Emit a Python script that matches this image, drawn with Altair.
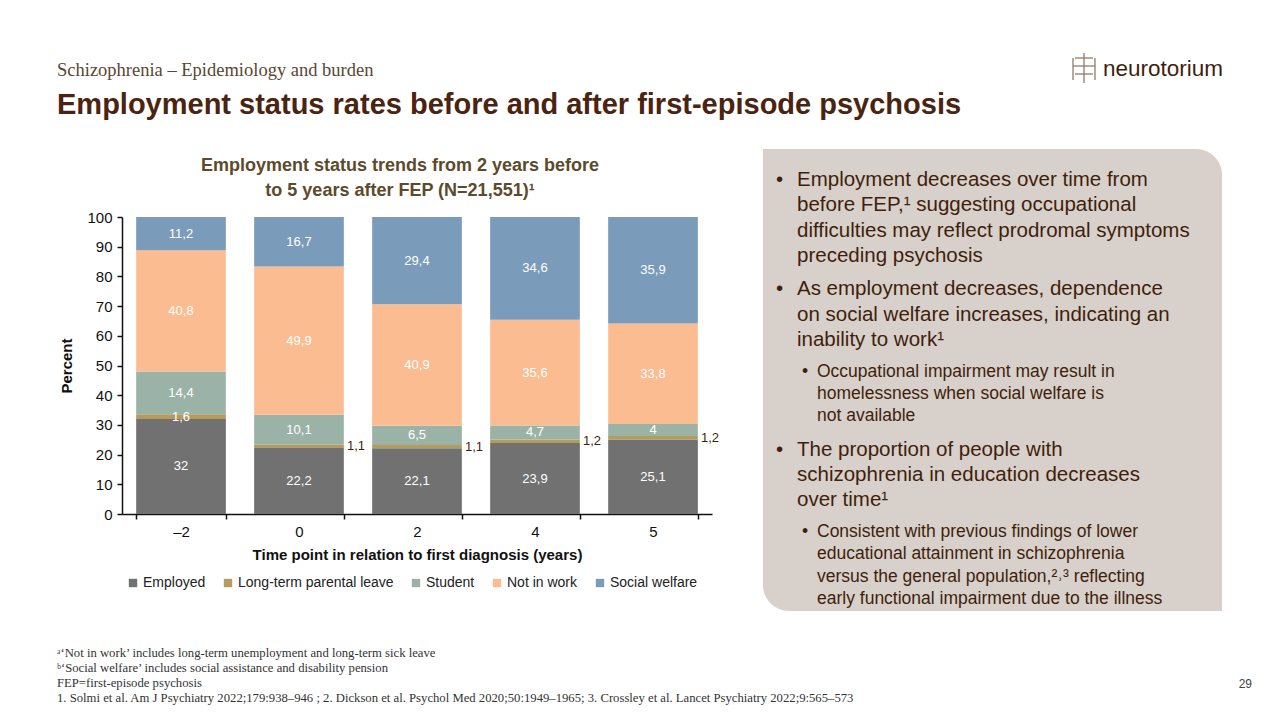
import altair as alt
import pandas as pd

# ---- data -------------------------------------------------------------
times = ["–2", "0", "2", "4", "5"]
categories = ["Employed", "Long-term parental leave", "Student", "Not in work", "Social welfare"]
employed = [32, 22.2, 22.1, 23.9, 25.1]
parental_leave = [1.6, 1.1, 1.1, 1.2, 1.2]
student = [14.4, 10.1, 6.5, 4.7, 4]
not_in_work = [40.8, 49.9, 40.9, 35.6, 33.8]
social_welfare = [11.2, 16.7, 29.4, 34.6, 35.9]
y_ticks = [0, 10, 20, 30, 40, 50, 60, 70, 80, 90, 100]
colors = ["#717171", "#B59B5E", "#9BB3A7", "#FBBC91", "#7B9BBA"]

series = [employed, parental_leave, student, not_in_work, social_welfare]
rows = []
for ci, (cat, vals) in enumerate(zip(categories, series)):
    for t, v in zip(times, vals):
        rows.append({"time": t, "category": cat, "order": ci, "value": v,
                     "label": f"{v:g}".replace(".", ",")})
df = pd.DataFrame(rows)

# ---- layout constants --------------------------------------------------
W, H = 590, 297            # plot area
LEFT, TOP = 122, 217       # plot origin on the 1280x720 canvas
NARROW = "Liberation Sans Narrow, Arial Narrow, Liberation Sans, sans-serif"
SANS = "Liberation Sans, Arial, sans-serif"
SERIF = "Liberation Serif, Times New Roman, serif"
BROWN = "#3F1F0C"
one = pd.DataFrame({"k": [0]})


def note(text, x, y, size, color, font=SANS, weight="normal", align="left",
         line_height=None, baseline="alphabetic"):
    kw = dict(text=text, fontSize=size, color=color, font=font,
              fontWeight=weight, align=align, baseline=baseline)
    if line_height:
        kw["lineHeight"] = line_height
    return alt.Chart(one).mark_text(**kw).encode(
        x=alt.value(x - LEFT), y=alt.value(y - TOP))


def rule(x1, y1, x2, y2, color="#8B6F5C", width=1.2):
    return alt.Chart(one).mark_rule(color=color, strokeWidth=width).encode(
        x=alt.value(x1 - LEFT), y=alt.value(y1 - TOP),
        x2=alt.value(x2 - LEFT), y2=alt.value(y2 - TOP))


# ---- axes shared by every data layer ------------------------------------
x_axis = alt.Axis(title="Time point in relation to first diagnosis (years)",
                  labelAngle=0, tickBand="extent", tickSize=5,
                  labelPadding=5, labelFontSize=15, labelFont=NARROW,
                  labelColor="#111", titleFont=NARROW, titleFontSize=15,
                  titleFontWeight="bold", titleColor="#111", titlePadding=8,
                  domainColor="#111", domainWidth=1.5, tickColor="#111",
                  tickWidth=1.5)
y_axis = alt.Axis(title="Percent", values=y_ticks, grid=False, tickSize=5,
                  labelPadding=5, labelFontSize=15, labelFont=NARROW,
                  labelColor="#111", labelOverlap=False, titleFont=NARROW,
                  titleFontSize=15, titleFontWeight="bold",
                  titleColor="#111", titlePadding=12, domainColor="#111",
                  domainWidth=1.5, tickColor="#111", tickWidth=1.5)
x_scale = alt.Scale(paddingInner=0.24, paddingOuter=0.12)
y_scale = alt.Scale(domain=[0, 100])

x_enc = alt.X("time:N", sort=times, scale=x_scale, axis=x_axis)

# ---- stacked bars --------------------------------------------------------
bars = alt.Chart(df).mark_bar().encode(
    x=x_enc,
    y=alt.Y("value:Q", stack="zero", scale=y_scale, axis=y_axis),
    color=alt.Color("category:N",
                    scale=alt.Scale(domain=categories, range=colors),
                    legend=alt.Legend(title=None, orient="none",
                                      legendX=4, legendY=359,
                                      direction="horizontal",
                                      symbolType="square", symbolSize=70,
                                      symbolStrokeWidth=0,
                                      labelFont=NARROW, labelFontSize=14,
                                      labelColor="#222", columnPadding=15,
                                      labelOffset=3)),
    order=alt.Order("order:Q", sort="ascending"),
)

stacked = alt.Chart(df).transform_stack(
    stack="value", groupby=["time"], sort=[alt.SortField("order")],
    as_=["y0", "y1"]
).transform_calculate(mid="(datum.y0 + datum.y1) / 2")

outside = "datum.category == 'Long-term parental leave' && datum.time != '–2'"

inner_labels = stacked.transform_filter("!(" + outside + ")").mark_text(
    color="white", fontSize=13, font=NARROW, baseline="middle"
).encode(x=x_enc, y=alt.Y("mid:Q", scale=y_scale, axis=y_axis),
         text="label:N")

outer_labels = stacked.transform_filter(outside).mark_text(
    color=BROWN, fontSize=13, font=NARROW, baseline="middle", align="left",
    dx=48
).encode(x=x_enc, y=alt.Y("mid:Q", scale=y_scale, axis=y_axis),
         text="label:N")

# ---- slide furniture ----------------------------------------------------
panel = alt.Chart(one).mark_rect(
    color="#D8D0CA", cornerRadiusTopRight=26, cornerRadiusBottomLeft=26
).encode(x=alt.value(763 - LEFT), x2=alt.value(1222 - LEFT),
         y=alt.value(149 - TOP), y2=alt.value(611 - TOP))

layers = [
    panel,
    bars,
    inner_labels,
    outer_labels,
    note("Schizophrenia – Epidemiology and burden", 57, 76, 18.5, "#5A4632",
         font=SERIF),
    note("Employment status rates before and after first-episode psychosis",
         57, 114, 29, "#4A2410", weight="bold"),
    note("neurotorium", 1103, 76, 22.5, BROWN),
    rule(1084, 53, 1084, 83), rule(1075, 58, 1093, 58),
    rule(1073, 66, 1095, 66), rule(1075, 74, 1093, 74),
    rule(1073, 58, 1073, 80), rule(1095, 58, 1095, 80),
    note(["Employment status trends from 2 years before",
          "to 5 years after FEP (N=21,551)¹"], 400, 171, 18, "#5D4A2B",
         font=NARROW, weight="bold", align="center", line_height=25),
    # bullet points
    note("•", 776, 186, 20.5, BROWN),
    note(["Employment decreases over time from",
          "before FEP,¹ suggesting occupational",
          "difficulties may reflect prodromal symptoms",
          "preceding psychosis"], 797, 186, 20.5, BROWN, line_height=25.3),
    note("•", 776, 295, 20.5, BROWN),
    note(["As employment decreases, dependence",
          "on social welfare increases, indicating an",
          "inability to work¹"], 797, 295, 20.5, BROWN, line_height=25.5),
    note("•", 802, 377, 17.5, BROWN),
    note(["Occupational impairment may result in",
          "homelessness when social welfare is",
          "not available"], 817, 377, 17.5, BROWN, line_height=22),
    note("•", 776, 456, 20.5, BROWN),
    note(["The proportion of people with",
          "schizophrenia in education decreases",
          "over time¹"], 797, 456, 20.5, BROWN, line_height=25),
    note("•", 802, 537, 17.5, BROWN),
    note(["Consistent with previous findings of lower",
          "educational attainment in schizophrenia",
          "versus the general population,²˒³ reflecting",
          "early functional impairment due to the illness"],
         817, 537, 17.5, BROWN, line_height=22.3),
    # footnotes
    note(["ᵃ‘Not in work’ includes long-term unemployment and long-term sick leave",
          "ᵇ‘Social welfare’ includes social assistance and disability pension",
          "FEP=first-episode psychosis",
          "1. Solmi et al. Am J Psychiatry 2022;179:938–946 ; 2. Dickson et al. "
          "Psychol Med 2020;50:1949–1965; 3. Crossley et al. Lancet Psychiatry "
          "2022;9:565–573"], 57, 657, 12.7, "#333333", font=SERIF,
         line_height=15),
    note("29", 1252, 688, 12, "#444444", align="right"),
]

chart = alt.layer(*layers).properties(
    width=W, height=H,
    autosize=alt.AutoSizeParams(type="none"),
    padding={"left": LEFT, "top": TOP, "right": 1280 - LEFT - W,
             "bottom": 720 - TOP - H},
    background="white",
).configure_view(stroke=None)

chart.save("out.html", embed_options={"renderer": "svg", "actions": False})
